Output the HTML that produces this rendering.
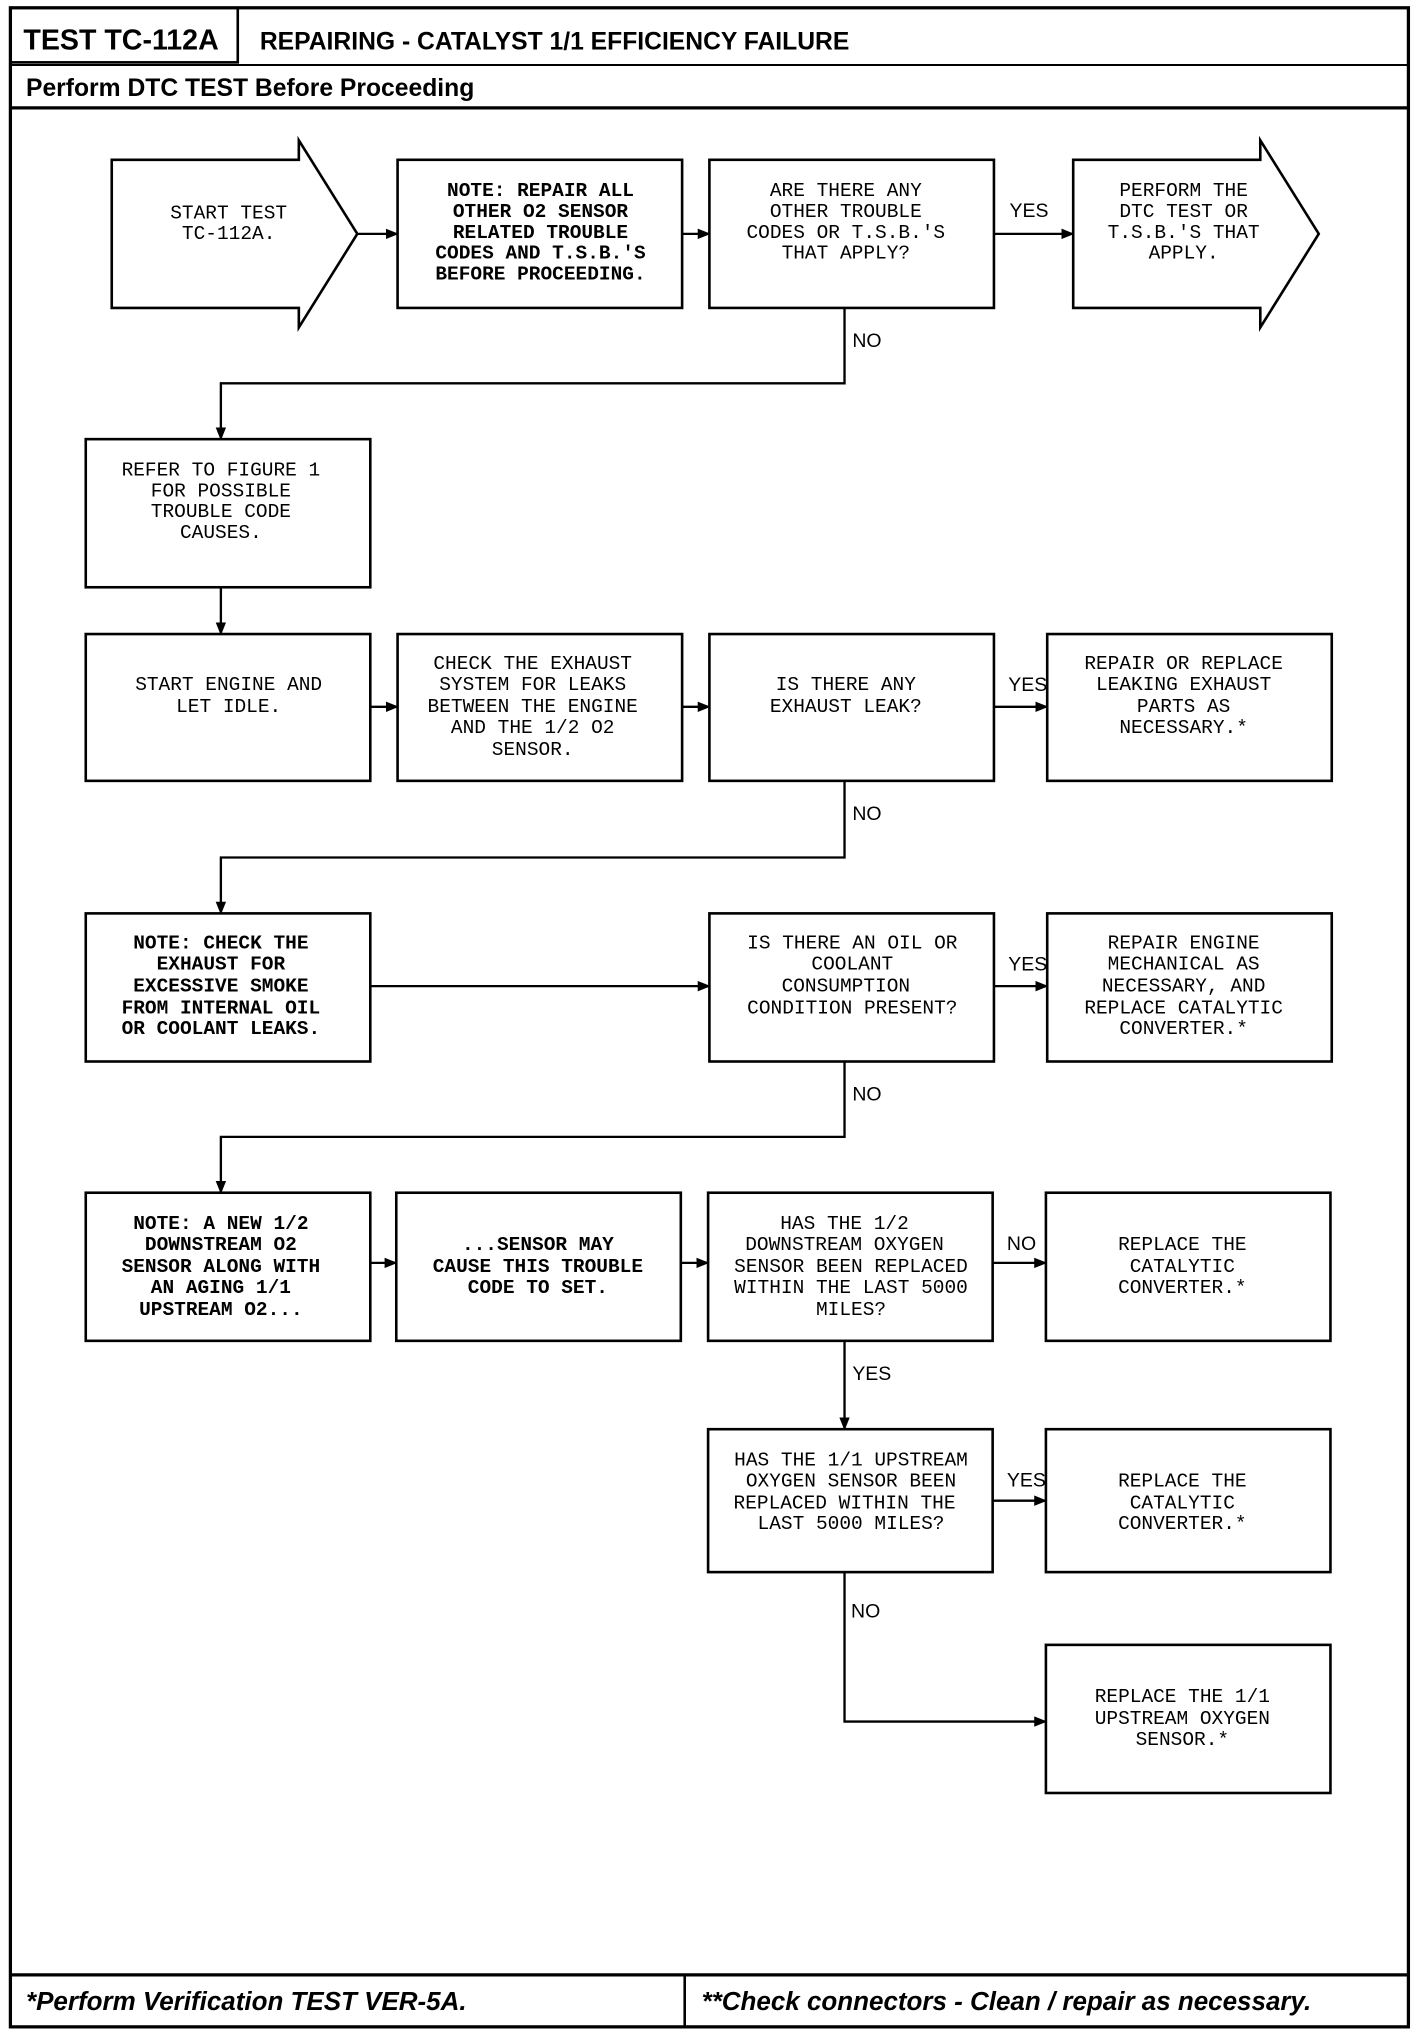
<!DOCTYPE html>
<html><head><meta charset="utf-8"><style>
html,body{margin:0;padding:0;background:#fff;}
svg{display:block;}
.b{fill:#fff;stroke:#000;stroke-width:2;}
.l{stroke:#000;stroke-width:1.8;fill:none;}
.t{font-family:"Liberation Mono",monospace;font-size:15px;text-anchor:middle;fill:#000;}
.tb{font-family:"Liberation Mono",monospace;font-size:15px;text-anchor:middle;fill:#000;font-weight:bold;}
.lab{font-family:"Liberation Sans",sans-serif;font-size:15px;fill:#000;}
.h{font-family:"Liberation Sans",sans-serif;font-weight:bold;fill:#000;}
</style></head><body>
<svg width="1424" height="2034" viewBox="0 0 1096 1565.5" xmlns="http://www.w3.org/2000/svg">
<defs><marker id="a" markerWidth="10" markerHeight="8" refX="9" refY="4" orient="auto" markerUnits="userSpaceOnUse"><path d="M0,0 L10,4 L0,8 Z" fill="#000"/></marker></defs>
<rect x="0" y="0" width="1096" height="1566" fill="#fff"/>
<!-- frame -->
<rect x="8" y="6" width="1076" height="1554" fill="none" stroke="#000" stroke-width="2.5"/>
<rect x="8" y="6" width="175" height="42" fill="none" stroke="#000" stroke-width="2"/>
<line x1="8" y1="50" x2="1084" y2="50" stroke="#000" stroke-width="1.5"/>
<line x1="8" y1="83" x2="1084" y2="83" stroke="#000" stroke-width="2.5"/>
<text class="h" x="18" y="38" font-size="22">TEST TC-112A</text>
<text class="h" x="200" y="38" font-size="19">REPAIRING - CATALYST 1/1 EFFICIENCY FAILURE</text>
<text class="h" x="20" y="74" font-size="19">Perform DTC TEST Before Proceeding</text>
<line x1="8" y1="1520" x2="1084" y2="1520" stroke="#000" stroke-width="2.5"/>
<line x1="527" y1="1520" x2="527" y2="1560" stroke="#000" stroke-width="2"/>
<text class="h" x="20" y="1547" font-size="20" font-style="italic">*Perform Verification TEST VER-5A.</text>
<text class="h" x="540" y="1547" font-size="20" font-style="italic">**Check connectors - Clean / repair as necessary.</text>

<!-- row 1 -->
<path class="b" d="M86,123 H230 V108 L275,180 L230,252 V237 H86 Z"/>
<text class="t" x="176" y="168">START TEST</text><text class="t" x="176" y="184">TC-112A.</text>
<rect class="b" x="306" y="123" width="219" height="114"/>
<text class="tb" x="416" y="151">NOTE: REPAIR ALL</text><text class="tb" x="416" y="167">OTHER O2 SENSOR</text><text class="tb" x="416" y="183">RELATED TROUBLE</text><text class="tb" x="416" y="199">CODES AND T.S.B.'S</text><text class="tb" x="416" y="215">BEFORE PROCEEDING.</text>
<rect class="b" x="546" y="123" width="219" height="114"/>
<text class="t" x="651" y="151">ARE THERE ANY</text><text class="t" x="651" y="167">OTHER TROUBLE</text><text class="t" x="651" y="183">CODES OR T.S.B.'S</text><text class="t" x="651" y="199">THAT APPLY?</text>
<path class="b" d="M826,123 H970 V108 L1015,180 L970,252 V237 H826 Z"/>
<text class="t" x="911" y="151">PERFORM THE</text><text class="t" x="911" y="167">DTC TEST OR</text><text class="t" x="911" y="183">T.S.B.'S THAT</text><text class="t" x="911" y="199">APPLY.</text>
<line class="l" x1="275" y1="180" x2="306" y2="180" marker-end="url(#a)"/>
<line class="l" x1="525" y1="180" x2="546" y2="180" marker-end="url(#a)"/>
<line class="l" x1="765" y1="180" x2="826" y2="180" marker-end="url(#a)"/>
<text class="lab" x="777" y="167">YES</text>
<path class="l" d="M650,237 V295 H170 V338" marker-end="url(#a)"/>
<text class="lab" x="656" y="267">NO</text>

<!-- row 2 -->
<rect class="b" x="66" y="338" width="219" height="114"/>
<text class="t" x="170" y="366">REFER TO FIGURE 1</text><text class="t" x="170" y="382">FOR POSSIBLE</text><text class="t" x="170" y="398">TROUBLE CODE</text><text class="t" x="170" y="414">CAUSES.</text>
<line class="l" x1="170" y1="452" x2="170" y2="488" marker-end="url(#a)"/>

<!-- row 3 -->
<rect class="b" x="66" y="488" width="219" height="113"/>
<text class="t" x="176" y="531">START ENGINE AND</text><text class="t" x="176" y="548">LET IDLE.</text>
<rect class="b" x="306" y="488" width="219" height="113"/>
<text class="t" x="410" y="515">CHECK THE EXHAUST</text><text class="t" x="410" y="531">SYSTEM FOR LEAKS</text><text class="t" x="410" y="548">BETWEEN THE ENGINE</text><text class="t" x="410" y="564">AND THE 1/2 O2</text><text class="t" x="410" y="581">SENSOR.</text>
<rect class="b" x="546" y="488" width="219" height="113"/>
<text class="t" x="651" y="531">IS THERE ANY</text><text class="t" x="651" y="548">EXHAUST LEAK?</text>
<rect class="b" x="806" y="488" width="219" height="113"/>
<text class="t" x="911" y="515">REPAIR OR REPLACE</text><text class="t" x="911" y="531">LEAKING EXHAUST</text><text class="t" x="911" y="548">PARTS AS</text><text class="t" x="911" y="564">NECESSARY.*</text>
<line class="l" x1="285" y1="544" x2="306" y2="544" marker-end="url(#a)"/>
<line class="l" x1="525" y1="544" x2="546" y2="544" marker-end="url(#a)"/>
<line class="l" x1="765" y1="544" x2="806" y2="544" marker-end="url(#a)"/>
<text class="lab" x="776" y="532">YES</text>
<path class="l" d="M650,601 V660 H170 V703" marker-end="url(#a)"/>
<text class="lab" x="656" y="631">NO</text>

<!-- row 4 -->
<rect class="b" x="66" y="703" width="219" height="114"/>
<text class="tb" x="170" y="730">NOTE: CHECK THE</text><text class="tb" x="170" y="746">EXHAUST FOR</text><text class="tb" x="170" y="763">EXCESSIVE SMOKE</text><text class="tb" x="170" y="780">FROM INTERNAL OIL</text><text class="tb" x="170" y="796">OR COOLANT LEAKS.</text>
<rect class="b" x="546" y="703" width="219" height="114"/>
<text class="t" x="656" y="730">IS THERE AN OIL OR</text><text class="t" x="656" y="746">COOLANT</text><text class="t" x="651" y="763">CONSUMPTION</text><text class="t" x="656" y="780">CONDITION PRESENT?</text>
<rect class="b" x="806" y="703" width="219" height="114"/>
<text class="t" x="911" y="730">REPAIR ENGINE</text><text class="t" x="911" y="746">MECHANICAL AS</text><text class="t" x="911" y="763">NECESSARY, AND</text><text class="t" x="911" y="780">REPLACE CATALYTIC</text><text class="t" x="911" y="796">CONVERTER.*</text>
<line class="l" x1="285" y1="759" x2="546" y2="759" marker-end="url(#a)"/>
<line class="l" x1="765" y1="759" x2="806" y2="759" marker-end="url(#a)"/>
<text class="lab" x="776" y="747">YES</text>
<path class="l" d="M650,817 V875 H170 V918" marker-end="url(#a)"/>
<text class="lab" x="656" y="847">NO</text>

<!-- row 5 -->
<rect class="b" x="66" y="918" width="219" height="114"/>
<text class="tb" x="170" y="946">NOTE: A NEW 1/2</text><text class="tb" x="170" y="962">DOWNSTREAM O2</text><text class="tb" x="170" y="979">SENSOR ALONG WITH</text><text class="tb" x="170" y="995">AN AGING 1/1</text><text class="tb" x="170" y="1012">UPSTREAM O2...</text>
<rect class="b" x="305" y="918" width="219" height="114"/>
<text class="tb" x="414" y="962">...SENSOR MAY</text><text class="tb" x="414" y="979">CAUSE THIS TROUBLE</text><text class="tb" x="414" y="995">CODE TO SET.</text>
<rect class="b" x="545" y="918" width="219" height="114"/>
<text class="t" x="650" y="946">HAS THE 1/2</text><text class="t" x="650" y="962">DOWNSTREAM OXYGEN</text><text class="t" x="655" y="979">SENSOR BEEN REPLACED</text><text class="t" x="655" y="995">WITHIN THE LAST 5000</text><text class="t" x="655" y="1012">MILES?</text>
<rect class="b" x="805" y="918" width="219" height="114"/>
<text class="t" x="910" y="962">REPLACE THE</text><text class="t" x="910" y="979">CATALYTIC</text><text class="t" x="910" y="995">CONVERTER.*</text>
<line class="l" x1="285" y1="972" x2="305" y2="972" marker-end="url(#a)"/>
<line class="l" x1="524" y1="972" x2="545" y2="972" marker-end="url(#a)"/>
<line class="l" x1="764" y1="972" x2="805" y2="972" marker-end="url(#a)"/>
<text class="lab" x="775" y="962">NO</text>
<line class="l" x1="650" y1="1032" x2="650" y2="1100" marker-end="url(#a)"/>
<text class="lab" x="656" y="1062">YES</text>

<!-- row 6 -->
<rect class="b" x="545" y="1100" width="219" height="110"/>
<text class="t" x="655" y="1128">HAS THE 1/1 UPSTREAM</text><text class="t" x="655" y="1144">OXYGEN SENSOR BEEN</text><text class="t" x="650" y="1161">REPLACED WITHIN THE</text><text class="t" x="655" y="1177">LAST 5000 MILES?</text>
<rect class="b" x="805" y="1100" width="219" height="110"/>
<text class="t" x="910" y="1144">REPLACE THE</text><text class="t" x="910" y="1161">CATALYTIC</text><text class="t" x="910" y="1177">CONVERTER.*</text>
<line class="l" x1="764" y1="1155" x2="805" y2="1155" marker-end="url(#a)"/>
<text class="lab" x="775" y="1144">YES</text>
<path class="l" d="M650,1210 V1325 H805" marker-end="url(#a)"/>
<text class="lab" x="655" y="1245">NO</text>
<rect class="b" x="805" y="1266" width="219" height="114"/>
<text class="t" x="910" y="1310">REPLACE THE 1/1</text><text class="t" x="910" y="1327">UPSTREAM OXYGEN</text><text class="t" x="910" y="1343">SENSOR.*</text>
</svg>
</body></html>
